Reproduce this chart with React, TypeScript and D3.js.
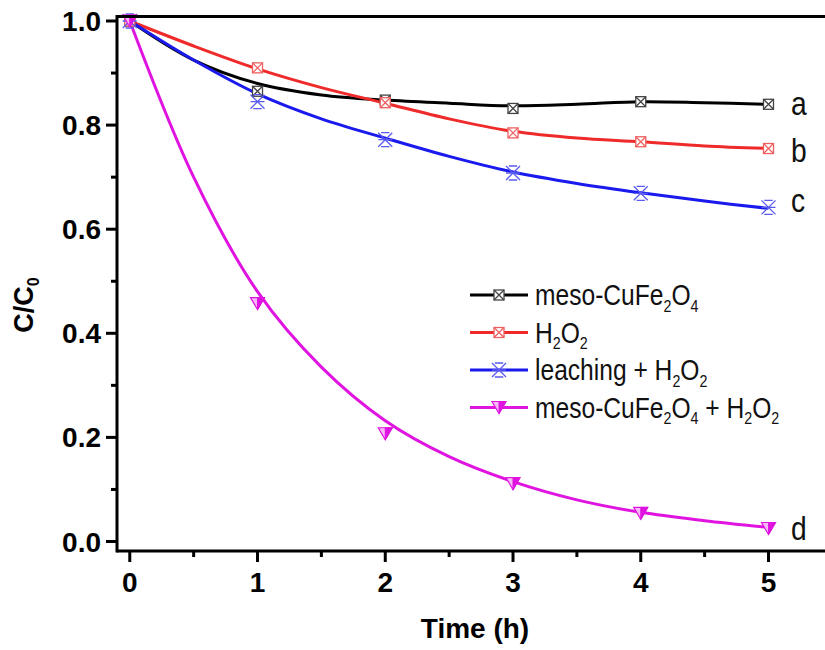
import React from "react";
import * as d3 from "d3";

// ---- data ----
const TIMES = [0, 1, 2, 3, 4, 5];
const FIT_TIMES = [0, 0.5, 1, 1.5, 2, 2.5, 3, 3.5, 4, 4.5, 5];
const X_TICKS = [0, 1, 2, 3, 4, 5];
const X_MINOR = [0.5, 1.5, 2.5, 3.5, 4.5];
const Y_TICKS = [0, 0.2, 0.4, 0.6, 0.8, 1.0];
const Y_MINOR = [0.1, 0.3, 0.5, 0.7, 0.9];

// measured points
const mesoPts = [1.0, 0.865, 0.848, 0.832, 0.845, 0.84];
const h2o2Pts = [1.0, 0.91, 0.843, 0.785, 0.768, 0.755];
const leachPts = [1.0, 0.845, 0.772, 0.708, 0.669, 0.642];
const mesoH2o2Pts = [1.0, 0.457, 0.207, 0.111, 0.054, 0.025];

// fitted curves
const mesoFit = [1.0, 0.925, 0.88, 0.858, 0.848, 0.842, 0.837, 0.84, 0.845, 0.843, 0.84];
const h2o2Fit = [1.0, 0.952, 0.908, 0.872, 0.842, 0.812, 0.788, 0.775, 0.768, 0.76, 0.755];
const leachFit = [1.0, 0.925, 0.86, 0.812, 0.775, 0.74, 0.71, 0.688, 0.67, 0.654, 0.64];
const mesoH2o2Fit = [1.0, 0.7, 0.48, 0.335, 0.232, 0.163, 0.115, 0.08, 0.056, 0.04, 0.027];

type Seg = { t: string; sub?: boolean };
const LABELS: Seg[][] = [
  [{ t: "meso-CuFe" }, { t: "2", sub: true }, { t: "O" }, { t: "4", sub: true }],
  [{ t: "H" }, { t: "2", sub: true }, { t: "O" }, { t: "2", sub: true }],
  [{ t: "leaching + H" }, { t: "2", sub: true }, { t: "O" }, { t: "2", sub: true }],
  [
    { t: "meso-CuFe" }, { t: "2", sub: true }, { t: "O" }, { t: "4", sub: true },
    { t: " + H" }, { t: "2", sub: true }, { t: "O" }, { t: "2", sub: true },
  ],
];
const END_LETTERS = ["a", "b", "c", "d"];

const SERIES = [
  { pts: mesoPts, fit: mesoFit, color: "#000000", mark: "#444444", marker: "square" },
  { pts: h2o2Pts, fit: h2o2Fit, color: "#ef2a2a", mark: "#f06060", marker: "square" },
  { pts: leachPts, fit: leachFit, color: "#1a1aee", mark: "#5a5af0", marker: "star" },
  { pts: mesoH2o2Pts, fit: mesoH2o2Fit, color: "#e014e0", mark: "#e014e0", marker: "tri" },
];

const W = 825;
const H = 650;
const FONT = "'Liberation Sans', Arial, Helvetica, sans-serif";

const x = d3.scaleLinear().domain([-0.1, 5]).range([117, 768.5]);
const y = d3.scaleLinear().domain([0, 1]).range([541.5, 21]);
const AX_LEFT = 117;
const AX_BOTTOM = 551;
const AX_TOP = 16.5;

function Marker({ type, cx, cy, color }: { type: string; cx: number; cy: number; color: string }) {
  if (type === "square") {
    const s = 5;
    return (
      <g stroke={color} strokeWidth={1.3} fill="white">
        <rect x={cx - s} y={cy - s} width={2 * s} height={2 * s} />
        <path d={`M${cx - s},${cy - s}L${cx + s},${cy + s}M${cx + s},${cy - s}L${cx - s},${cy + s}`} />
      </g>
    );
  }
  if (type === "star") {
    const s = 7;
    return (
      <g stroke={color} strokeWidth={1.3} fill="none">
        <path
          d={`M${cx - s},${cy - s}L${cx + s},${cy + s}M${cx + s},${cy - s}L${cx - s},${cy + s}M${cx - s},${cy}L${cx + s},${cy}M${cx - s * 0.6},${cy - s}L${cx + s * 0.6},${cy - s}M${cx - s * 0.6},${cy + s}L${cx + s * 0.6},${cy + s}`}
        />
      </g>
    );
  }
  // half-filled down triangle
  const w = 7;
  const h = 6;
  return (
    <g>
      <path d={`M${cx - w},${cy - h}L${cx + w},${cy - h}L${cx},${cy + h}Z`} fill="#f6b8f6" stroke={color} strokeWidth={1.2} />
      <path d={`M${cx},${cy - h}L${cx + w},${cy - h}L${cx},${cy + h}Z`} fill={color} stroke={color} strokeWidth={1} />
    </g>
  );
}

function RichText({ segs, size }: { segs: Seg[]; size: number }) {
  const out: React.ReactNode[] = [];
  let prevSub = false;
  segs.forEach((s, i) => {
    let dy = 0;
    if (s.sub && !prevSub) dy = size * 0.22;
    if (!s.sub && prevSub) dy = -size * 0.22;
    out.push(
      <tspan key={i} dy={dy} fontSize={s.sub ? size * 0.58 : size}>
        {s.t}
      </tspan>
    );
    prevSub = !!s.sub;
  });
  return <>{out}</>;
}

export default function App() {
  const line = d3
    .line<number>()
    .x((_, i) => x(FIT_TIMES[i]))
    .y((d) => y(d))
    .curve(d3.curveCatmullRom.alpha(0.5));

  const legendRows = [295, 332.5, 370, 407.5];
  const letterBase = [115, 162, 212, 540];

  return (
    <svg
      width={W}
      height={H}
      style={{ position: "absolute", left: 0, top: 0, background: "white" }}
      fontFamily={FONT}
    >
      <rect x={0} y={0} width={W} height={H} fill="white" />

      {/* curves */}
      {SERIES.map((s, i) => (
        <path key={"l" + i} d={line(s.fit) || ""} fill="none" stroke={s.color} strokeWidth={3} />
      ))}
      {/* markers */}
      {SERIES.map((s, i) => (
        <g key={"m" + i}>
          {s.pts.map((v, j) => (
            <Marker key={j} type={s.marker} cx={x(TIMES[j])} cy={y(v)} color={s.mark} />
          ))}
        </g>
      ))}

      {/* frame / axes */}
      <line x1={AX_LEFT} x2={W + 2} y1={AX_TOP} y2={AX_TOP} stroke="black" strokeWidth={3} />
      <line x1={AX_LEFT} x2={W + 2} y1={AX_BOTTOM} y2={AX_BOTTOM} stroke="black" strokeWidth={3} />
      <line x1={AX_LEFT} x2={AX_LEFT} y1={AX_TOP - 1.5} y2={AX_BOTTOM + 1.5} stroke="black" strokeWidth={3} />

      {/* y ticks */}
      {Y_TICKS.map((t) => (
        <g key={"yt" + t}>
          <line x1={AX_LEFT - 11} x2={AX_LEFT} y1={y(t)} y2={y(t)} stroke="black" strokeWidth={3} />
          <text x={101} y={y(t)} dy="0.36em" textAnchor="end" fontSize={28} fontWeight="bold">
            {d3.format(".1f")(t)}
          </text>
        </g>
      ))}
      {Y_MINOR.map((t) => (
        <line key={"ym" + t} x1={AX_LEFT - 6} x2={AX_LEFT} y1={y(t)} y2={y(t)} stroke="black" strokeWidth={3} />
      ))}

      {/* x ticks */}
      {X_TICKS.map((t) => (
        <g key={"xt" + t}>
          <line x1={x(t)} x2={x(t)} y1={AX_BOTTOM} y2={AX_BOTTOM + 11} stroke="black" strokeWidth={3} />
          <text x={x(t)} y={592} textAnchor="middle" fontSize={28} fontWeight="bold">
            {t}
          </text>
        </g>
      ))}
      {X_MINOR.map((t) => (
        <line key={"xm" + t} x1={x(t)} x2={x(t)} y1={AX_BOTTOM} y2={AX_BOTTOM + 6} stroke="black" strokeWidth={3} />
      ))}

      {/* axis titles */}
      <text x={475} y={638} textAnchor="middle" fontSize={28} fontWeight="bold">
        Time (h)
      </text>
      <text transform="translate(33,305) rotate(-90)" textAnchor="middle" fontSize={27} fontWeight="bold">
        C/C
        <tspan dy={6} fontSize={16}>0</tspan>
      </text>

      {/* legend */}
      {SERIES.map((s, i) => {
        const ry = legendRows[i];
        return (
          <g key={"lg" + i}>
            <line x1={470} x2={528} y1={ry} y2={ry} stroke={s.color} strokeWidth={3} />
            <Marker type={s.marker} cx={499} cy={ry} color={s.mark} />
            <g transform={`translate(535,${ry + 10}) scale(0.82,1)`}>
              <text x={0} y={0} fontSize={30} fill="#111">
                <RichText segs={LABELS[i]} size={30} />
              </text>
            </g>
          </g>
        );
      })}

      {/* end letters */}
      {END_LETTERS.map((l, i) => (
        <g key={"el" + i} transform={`translate(791,${letterBase[i]}) scale(0.83,1)`}>
          <text x={0} y={0} fontSize={34} fill="#111">
            {l}
          </text>
        </g>
      ))}
    </svg>
  );
}
